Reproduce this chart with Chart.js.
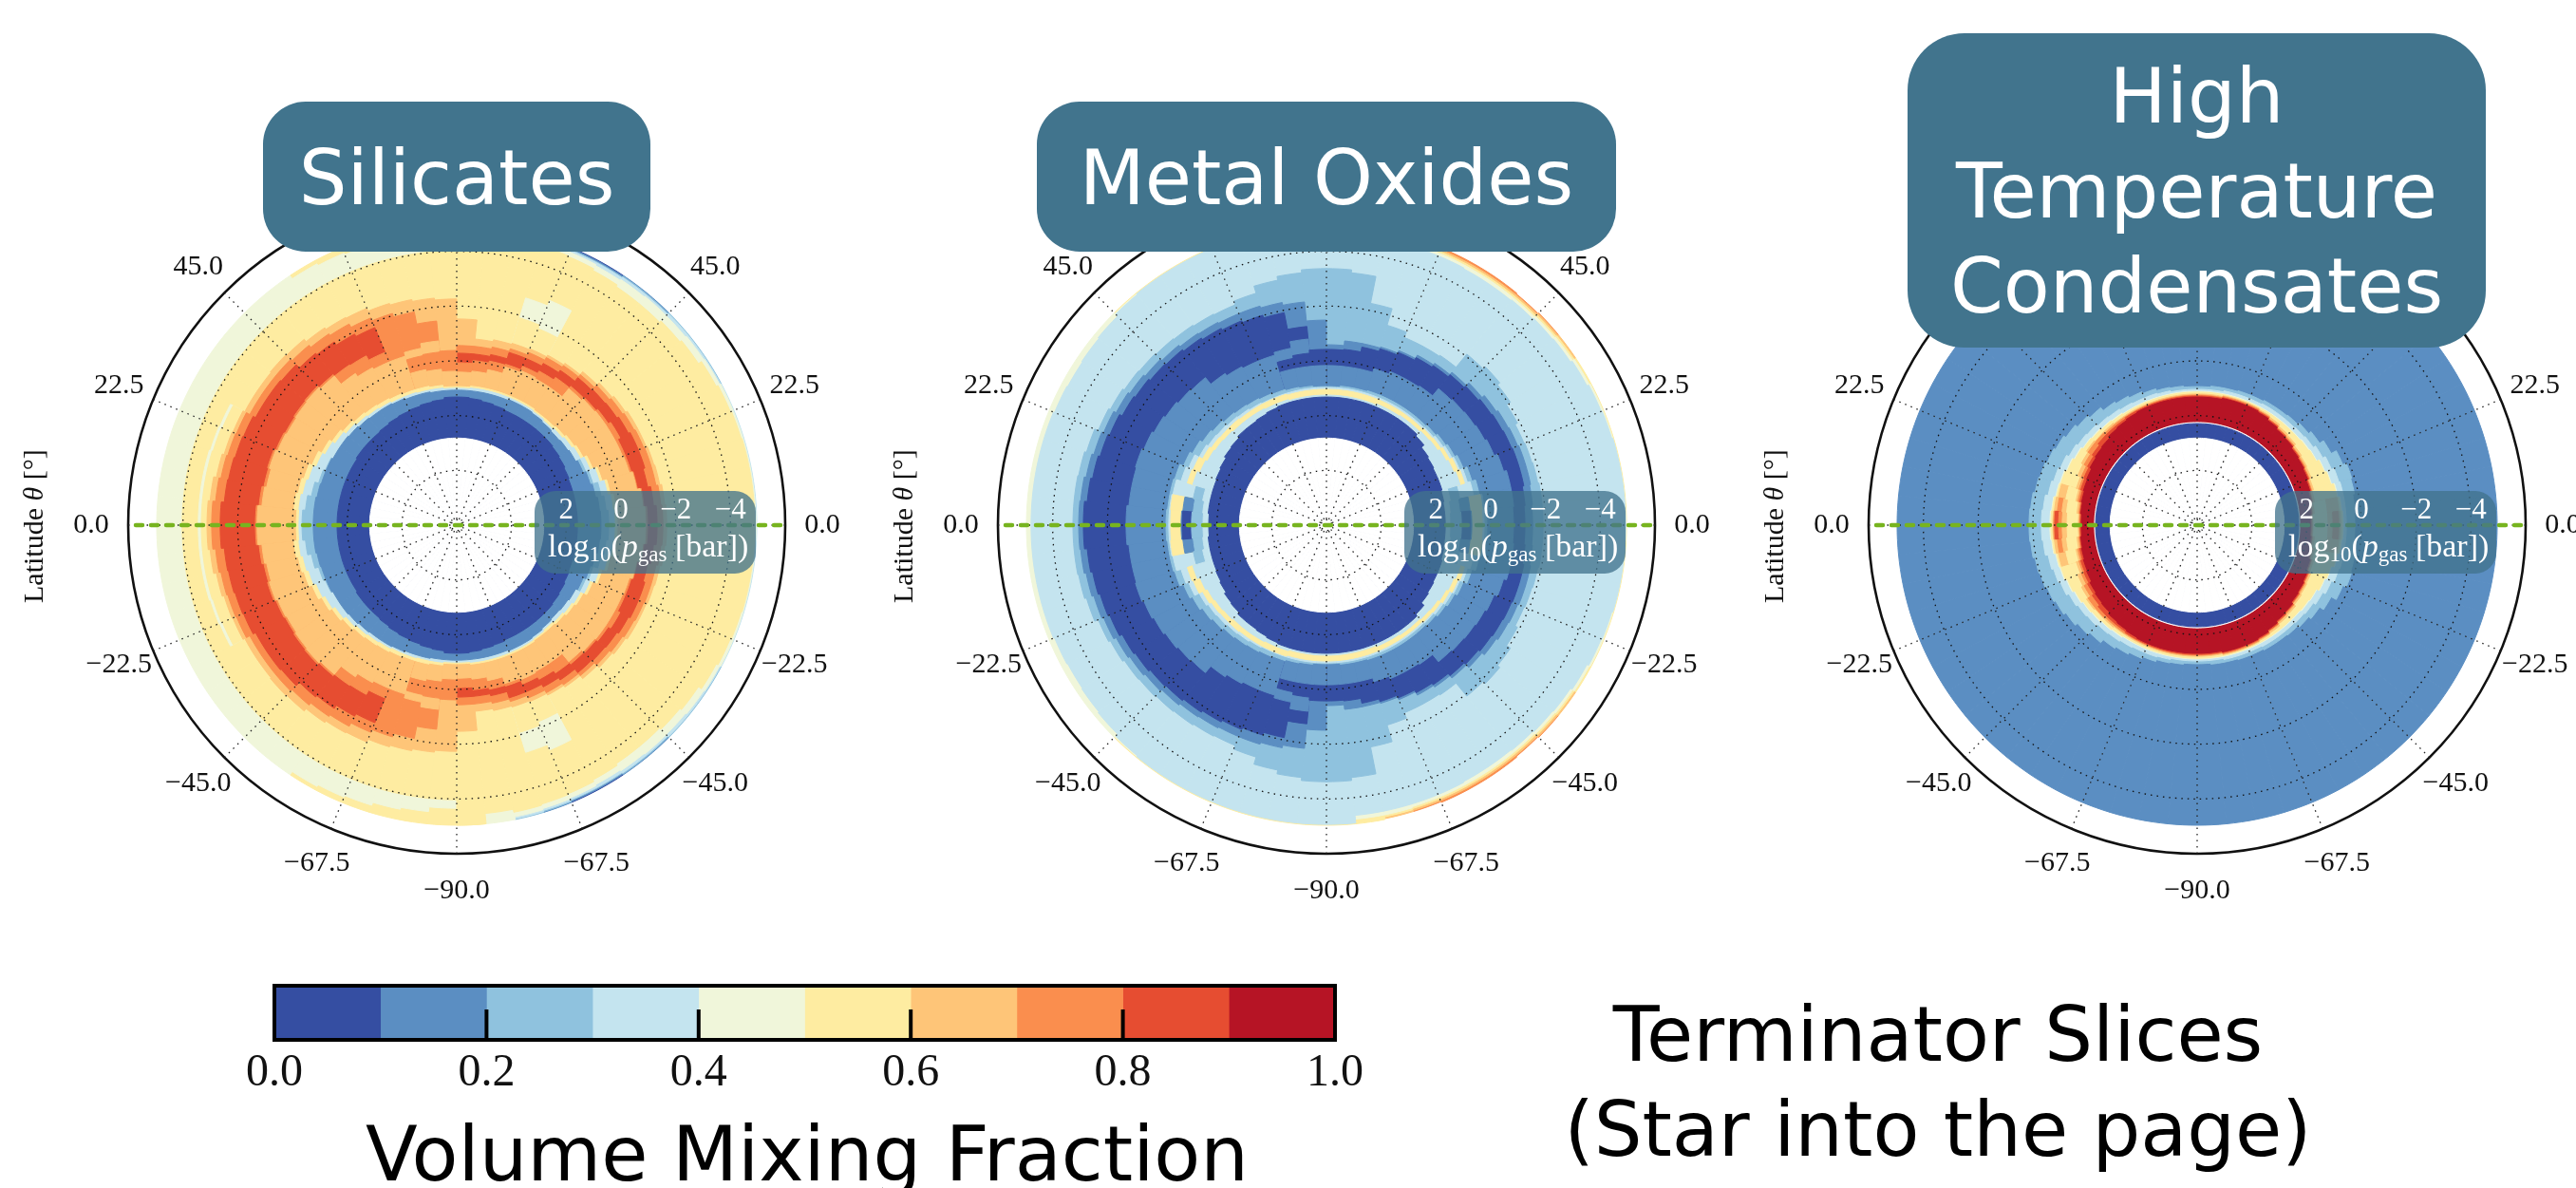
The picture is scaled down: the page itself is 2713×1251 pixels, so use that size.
<!DOCTYPE html>
<html>
<head>
<meta charset="utf-8">
<script src="https://cdn.jsdelivr.net/npm/chart.js@4"></script>
<style>
    html, body { margin: 0; background: #fff; }
    #page { position: relative; width: 2713px; height: 1251px; overflow: hidden; font-family: "DejaVu Sans"; }
    canvas { position: absolute; }
    .badge { position: absolute; background: #41748d; color: #fff; font-size: 80px; line-height: 100px;
             text-align: center; display: flex; align-items: center; justify-content: center; padding-top: 3px; box-sizing: border-box; }
    .note { position: absolute; color: #000; font-size: 80px; line-height: 100px; text-align: center; white-space: nowrap; }
</style>
</head>
<body>
<div id="page">
    <canvas id="panel1" width="916" height="900" style="left:23px;top:103px"></canvas>
    <canvas id="panel2" width="916" height="900" style="left:939px;top:103px"></canvas>
    <canvas id="panel3" width="916" height="900" style="left:1856px;top:103px"></canvas>
    <canvas id="colorbar" width="1198" height="150" style="left:249px;top:1028px"></canvas>
    <div class="badge" style="left:277px;top:107px;width:408px;height:158px;border-radius:45px">Silicates</div>
    <div class="badge" style="left:1092px;top:107px;width:610px;height:158px;border-radius:45px">Metal Oxides</div>
    <div class="badge" style="left:2009px;top:35px;width:609px;height:331px;border-radius:60px">High<br>Temperature<br>Condensates</div>
    <div class="note" style="left:1641px;top:1040px;width:800px">Terminator Slices<br>(Star into the page)</div>
    <div class="note" style="left:350px;top:1166px;width:1000px">Volume Mixing Fraction</div>
</div>
<script>
// Colour bands of the mixing fraction, 0.0 to 1.0 in steps of 0.1
const bandColors = ["#354ea2", "#5b8ec2", "#8fc2de", "#c4e4ef", "#f0f6da", "#feeca1", "#fec578", "#fa8e4e", "#e64d31", "#b61425"];
const bandEdges = [0, 0.1, 0.2, 0.3, 0.4, 0.5, 0.6, 0.7, 0.8, 0.9, 1];
const colorbarTicks = ["0.0", "0.2", "0.4", "0.6", "0.8", "1.0"];
const WHITE = -1;

const sectorLabels = ["s0","s1","s2","s3","s4","s5","s6","s7","s8","s9","s10","s11","s12","s13","s14","s15","s16","s17","s18","s19","s20","s21","s22","s23","s24","s25","s26","s27","s28","s29","s30","s31",
    "s32","s33","s34","s35","s36","s37","s38","s39","s40","s41","s42","s43","s44","s45","s46","s47","s48","s49","s50","s51","s52","s53","s54","s55","s56","s57","s58","s59","s60","s61","s62","s63"];
const latitudeTicks = ["0.0","22.5","45.0","67.5","90.0","67.5","45.0","22.5","0.0","\u221222.5","\u221245.0","\u221267.5","\u221290.0","\u221267.5","\u221245.0","\u221222.5"];
const radialGrid = [5.8, 4, 2, 0, -2, -4, -6];
const pressureTicks = [2, 0, -2, -4];

// Each array: log10(p) of a band's low-pressure edge, sector by sector,
// from the west limb round the south to the east limb (north is the mirror image).
// 6 means the band is absent in that sector.
const holeEdge = [2.82,2.82,2.82,2.82,2.82,2.82,2.82,2.82,2.82,2.82,2.82,2.82,2.82,2.82,2.82,2.82, 2.82,2.82,2.82,2.82,2.82,2.82,2.82,2.82,2.82,2.82,2.82,2.82,2.82,2.82,2.82,2.82];

// Silicates
const silRimDark = [6,6,6,6,6,6,6,6,6,6,6,6,6,6,6,6, 6,6,6,6,-4.96,-4.96,6,6,6,6,6,6,6,6,6,6];
const silRimMid = [6,6,6,6,6,6,6,6,6,6,6,6,6,6,6,6, 6,6,6,-4.96,-4.93,-4.93,-4.96,-4.96,6,6,6,6,6,6,6,6];
const silRimSky = [6,6,6,6,6,6,6,6,6,6,6,6,6,6,6,6, 6,6,-4.96,-4.93,-4.89,-4.89,-4.93,-4.93,-4.96,-4.96,-4.96,6,6,6,6,6];
const silRimPale = [6,6,6,6,6,6,6,6,6,6,6,6,6,6,6,6, 6,6,-4.93,-4.89,-4.86,-4.86,-4.89,-4.89,-4.93,-4.93,-4.93,-4.96,-4.96,-4.96,-4.96,-4.96];
const silRimYellow = [6,6,6,6,6,6,6,6,6,6,-4.96,-4.96,-4.96,-4.96,-4.96,-4.96, -4.96,6,6,6,6,6,6,6,6,6,6,6,6,6,6,6];
const silGreen = [-4.96,-4.96,-4.96,-4.96,-4.96,-4.96,-4.96,-4.96,-4.96,-4.96,-4.82,-4.75,-4.69,-4.58,-4.51,-4.34, 6,-4.96,-4.86,-4.82,-4.79,-4.75,-4.79,-4.82,-4.82,-4.86,-4.89,-4.93,-4.93,-4.93,-4.93,-4.93];
const silYellow = [-4.03,-4.03,-4.03,-4.03,-4.03,-4.03,-4.03,-4.03,-4.03,-4.03,-4.03,-4.03,-4.03,-4.03,-4.03,-4.03, -4.96,-4.58,-4.69,-4.65,-4.62,-4.55,-4.48,-4.48,-4.55,-4.62,-4.75,-4.82,-4.86,-4.89,-4.89,-4.89];
const silPatchGreen = [-3.44,-3.44,-3.44,-3.40,-3.37,6,6,6,6,6,6,6,6,6,6,6, 6,6,6,-2.67,-2.88,6,6,6,6,6,6,6,6,6,6,6];
const silPatchYellow = [-3.33,-3.33,-3.33,-3.30,-3.26,6,6,6,6,6,6,6,6,6,6,6, 6,6,6,-1.91,-1.77,6,6,6,6,6,6,6,6,6,6,6];
const silLightOrange = [-3.12,-3.05,-2.95,-2.88,-2.85,-2.78,-2.78,-2.81,-2.78,-2.67,-2.60,-2.57,-2.46,-2.40,-2.33,-2.26, -1.53,-0.83,-0.90,-0.94,-0.97,-1.04,-1.11,-1.25,-1.35,-1.42,-1.49,-1.49,-1.53,-1.56,-1.63,-1.67];
const silOrange = [-2.95,-2.85,-2.78,-2.74,-2.71,-2.57,-2.57,-2.57,-2.50,-2.40,-2.33,-2.19,-2.08,-1.94,-1.49,6, -0.56,-0.56,-0.63,-0.73,-0.83,-0.94,-1.01,-1.11,-1.22,-1.29,-1.35,-1.39,-1.42,-1.42,-1.49,-1.53];
const silRed = [-2.64,-2.53,-2.50,-2.46,-2.43,-2.33,-2.33,-2.29,-2.12,-2.05,-1.91,-1.81,6,6,6,6, -0.28,-0.28,-0.35,-0.59,-0.59,-0.70,-0.80,-0.97,-1.01,-1.04,-1.11,-1.18,-1.18,-1.11,-1.22,-1.32];
const silOrangeLow = [-1.35,-1.25,-1.18,-1.22,-1.15,-1.11,-1.15,-1.18,-1.11,-1.04,-1.01,-0.83,6,6,6,6, 0.07,-0.04,-0.11,-0.14,-0.28,-0.38,-0.49,-0.56,-0.59,-0.66,-0.76,-0.66,-0.66,-0.73,-0.87,-0.97];
const silLightOrangeLow = [-1.29,-1.15,-1.08,-1.15,-1.08,-1.04,-1.08,-1.11,-1.04,-0.66,-0.52,-0.45,-0.45,-0.59,-0.76,6, 0.41,0.35,0.21,-0.04,-0.11,-0.07,-0.07,-0.45,-0.52,-0.56,-0.56,-0.56,-0.59,-0.70,-0.83,-0.90];
const silOrangePatch = [6,6,6,6,6,6,6,6,6,6,6,6,6,-0.31,-0.35,-0.38, 6,6,6,6,6,6,6,6,6,6,6,6,6,6,6,6];
const silLightOrangeDeep = [6,6,6,6,6,6,6,6,6,6,6,6,6,0.21,0.28,0.38, 6,6,6,6,6,6,6,6,6,6,6,6,6,6,6,6];
const silThinYellow = [0.14,0.03,0.10,0.17,0.28,0.41,0.52,0.62,0.69,0.73,0.76,0.80,0.83,0.83,0.87,0.94, 0.94,0.90,0.90,0.90,0.90,0.90,0.94,0.94,0.90,0.83,0.76,0.62,0.45,0.28,0.17,0.14];
const silPale = [0.24,0.21,0.28,0.35,0.45,0.55,0.66,0.76,0.83,0.87,0.90,0.94,0.94,0.97,0.97,1.00, 1.00,0.97,0.97,0.97,0.97,0.97,1.00,1.04,1.00,0.94,0.87,0.73,0.55,0.38,0.28,0.24];
const silSky = [0.35,0.45,0.59,0.73,0.80,6,6,6,6,6,6,6,6,6,6,6, 6,6,6,6,6,6,6,6,6,6,6,0.90,0.80,0.62,0.52,0.45];
const silMid = [0.76,0.76,0.80,0.83,0.83,0.87,0.87,0.90,0.94,0.97,0.97,1.00,1.04,1.04,1.07,1.07, 1.07,1.07,1.07,1.07,1.04,1.04,1.07,1.11,1.14,1.11,1.07,1.00,0.90,0.83,0.76,0.73];
const silDark = [1.63,1.63,1.63,1.63,1.63,1.63,1.59,1.59,1.59,1.56,1.52,1.49,1.46,1.42,1.39,1.32, 1.32,1.35,1.39,1.42,1.46,1.46,1.46,1.46,1.46,1.49,1.52,1.56,1.59,1.59,1.59,1.59];

// Metal oxides
const moRimOrange = [6,6,6,6,6,6,6,6,6,6,6,6,6,6,6,6, 6,6,6,-4.93,-4.96,-4.96,-4.96,-4.93,-4.96,6,6,6,6,6,6,6];
const moRimLightOrange = [6,6,6,6,6,6,6,6,6,6,6,6,6,6,6,6, 6,6,-4.93,-4.89,-4.89,-4.89,-4.89,-4.89,-4.93,-4.96,6,6,6,6,6,6];
const moRimYellow = [6,6,6,6,6,6,6,6,-4.96,-4.96,-4.96,-4.96,-4.96,-4.96,-4.96,-4.96, -4.96,-4.96,-4.86,-4.82,-4.82,-4.82,-4.82,-4.82,-4.86,-4.89,-4.96,-4.96,-4.96,-4.96,-4.96,-4.96];
const moGreen = [-4.96,-4.96,-4.96,-4.96,-4.96,-4.96,-4.96,-4.96,-4.93,6,6,6,6,6,6,6, 6,-4.79,-4.79,-4.75,-4.75,-4.75,-4.75,-4.75,-4.79,-4.82,-4.89,-4.93,-4.93,-4.93,-4.93,-4.93];
const moPale = [-4.79,-4.79,-4.79,-4.79,-4.75,-4.72,-4.75,-4.79,-4.89,-4.93,-4.93,-4.93,-4.93,-4.93,-4.93,-4.93, -4.93,-4.65,-4.65,-4.65,-4.65,-4.62,-4.62,-4.65,-4.69,-4.72,-4.79,-4.86,-4.89,-4.93,-4.93,-4.93];
const moSky = [-3.26,-3.26,-3.23,-3.16,-3.02,-2.95,-2.88,-2.85,-2.81,-2.78,-2.74,-2.71,-2.85,-3.12,-3.26,-3.37, -3.37,-3.26,-2.26,-1.63,-1.42,-1.42,-1.46,-2.08,-2.19,-2.08,-1.91,-1.81,-1.84,-1.87,-1.91,-1.91];
const moMid = [-3.05,-3.02,-2.95,-2.88,-2.81,-2.71,-2.64,-2.57,-2.50,-2.43,-2.40,-2.36,-2.36,-2.29,-2.19,-1.49, -0.59,-0.76,-0.76,-0.80,-0.90,-1.04,-1.11,-1.22,-1.35,-1.46,-1.53,-1.56,-1.60,-1.60,-1.56,-1.53];
const moDarkBand = [-2.88,-2.78,-2.71,-2.64,-2.57,-2.46,-2.40,-2.33,-2.29,-2.22,-2.15,-2.08,-2.01,-1.91,-1.29,6, -0.42,-0.45,-0.63,-0.73,-0.83,-0.94,-1.01,-1.11,-1.18,-1.25,-1.29,-1.32,-1.35,-1.35,-1.29,-1.25];
const moMidLow = [-1.32,-1.25,-1.25,-1.29,-1.22,-1.15,-1.08,-1.01,-0.97,-0.66,-0.56,-0.49,-0.49,-0.59,-0.83,6, 0.17,0.17,0.17,0.03,-0.07,-0.07,-0.11,-0.45,-0.49,-0.52,-0.56,-0.63,-0.76,-0.87,-0.87,-0.83];
const moDarkPatch = [6,6,6,6,6,6,6,6,6,6,6,6,6,-0.21,-0.31,-0.42, 6,6,6,6,6,6,6,6,6,6,6,6,6,6,6,6];
const moMidDeep = [6,6,6,6,6,6,6,6,6,6,6,6,6,0.17,0.17,0.17, 6,6,6,6,6,6,6,6,6,6,6,6,6,6,6,6];
const moArcSky = [0.14,0.17,0.17,0.21,0.35,0.45,0.55,0.62,0.69,0.73,0.76,0.80,0.83,0.87,0.90,0.94, 0.94,0.90,0.90,0.87,0.87,0.87,0.87,0.87,0.83,0.76,0.69,0.59,0.45,0.31,0.21,0.14];
const moArcPale = [0.24,0.24,0.28,0.45,0.55,0.73,0.80,0.83,0.87,0.90,0.94,0.97,0.97,0.97,0.97,0.97, 0.97,0.97,0.97,0.97,0.97,0.97,0.97,0.97,0.94,0.87,0.80,0.73,0.62,0.52,0.28,0.24];
const moArcYellow = [0.31,0.28,6,0.69,0.73,0.87,0.94,0.97,0.97,1.00,1.00,1.00,1.00,1.04,1.04,1.04, 1.04,1.04,1.04,1.04,1.04,1.04,1.04,1.04,1.00,0.97,0.90,0.80,0.73,6,0.28,0.31];
const moIslandMid = [0.69,0.73,6,6,6,6,6,6,6,6,6,6,6,6,6,6, 6,6,6,6,6,6,6,6,6,6,6,6,6,6,0.73,0.69];
const moIslandDark = [0.73,6,6,6,6,6,6,6,6,6,6,6,6,6,6,6, 6,6,6,6,6,6,6,6,6,6,6,6,6,6,6,0.73];
const moInnerSky = [1.07,1.11,1.04,6,6,6,6,6,6,6,6,6,6,6,6,6, 6,6,6,6,6,6,6,6,6,6,6,6,6,1.04,1.11,1.07];
const moInnerPale = [1.49,1.46,1.39,0.90,1.00,1.07,1.11,1.14,1.18,1.18,1.18,1.21,1.21,1.25,1.25,1.25, 1.25,1.25,1.25,1.25,1.21,1.21,1.18,1.18,1.14,1.11,1.04,0.97,0.90,1.39,1.46,1.49];
const moDark = [1.70,1.66,1.66,1.66,1.63,1.59,1.52,1.49,1.42,1.42,1.39,1.35,1.32,1.32,1.32,1.32, 1.32,1.32,1.32,1.32,1.32,1.32,1.32,1.32,1.39,1.52,1.56,1.59,1.59,1.63,1.66,1.66];

// High temperature condensates
const htOuter = [-4.96,-4.96,-4.96,-4.96,-4.96,-4.96,-4.96,-4.96,-4.96,-4.96,-4.96,-4.96,-4.96,-4.96,-4.96,-4.96, -4.96,-4.96,-4.96,-4.96,-4.96,-4.96,-4.96,-4.96,-4.96,-4.96,-4.96,-4.96,-4.96,-4.96,-4.96,-4.96];
const htSky = [-0.14,-0.11,-0.04,0,0.07,0.14,0.24,0.35,0.45,0.59,0.66,0.73,0.80,0.87,0.90,0.94, 0.94,0.90,0.90,0.87,0.87,0.83,0.83,0.80,0.73,0.62,0.45,0.24,0.10,0.14,0.21,0.24];
const htPale = [0.31,0.35,0.45,0.52,0.59,0.69,0.76,0.80,0.87,0.90,0.94,0.97,0.97,1.00,1.04,1.04, 1.04,1.04,1.00,1.00,1.00,0.97,0.97,0.97,0.94,0.90,0.80,0.69,0.59,0.55,0.55,0.55];
const htGreen = [0.62,0.66,0.73,0.76,0.83,0.90,0.97,1.00,1.04,1.07,1.11,1.11,1.11,1.11,1.11,1.11, 1.11,1.11,1.11,1.11,1.11,1.11,1.11,1.11,1.11,1.07,1.04,0.94,0.87,0.76,0.69,0.66];
const htYellow = [0.66,0.69,0.76,0.80,0.87,0.94,1.00,1.04,1.07,1.11,1.14,1.14,1.14,1.14,1.14,1.14, 1.14,1.14,1.14,1.14,1.14,1.14,1.14,1.14,1.14,1.11,1.07,0.97,0.90,0.80,0.73,0.69];
const htSpotLight = [0.73,0.76,0.83,6,6,6,6,6,6,6,6,6,6,6,6,6, 6,6,6,6,6,6,6,6,6,6,6,6,6,6,0.80,0.76];
const htSpotOrange = [0.76,0.87,6,6,6,6,6,6,6,6,6,6,6,6,6,6, 6,6,6,6,6,6,6,6,6,6,6,6,6,6,6,0.83];
const htSpotRed = [0.80,6,6,6,6,6,6,6,6,6,6,6,6,6,6,6, 6,6,6,6,6,6,6,6,6,6,6,6,6,6,6,6];
const htSpotOrangeLow = [0.94,6,6,6,6,6,6,6,6,6,6,6,6,6,6,6, 6,6,6,6,6,6,6,6,6,6,6,6,6,6,6,6];
const htSpotLightLow = [1.07,1.04,6,6,6,6,6,6,6,6,6,6,6,6,6,6, 6,6,6,6,6,6,6,6,6,6,6,6,6,6,1.04,1.07];
const htYellowLow = [1.25,1.21,1.11,6,6,6,6,6,6,6,6,6,6,6,6,6, 6,6,6,6,6,6,6,6,6,6,6,6,6,6,1.25,1.25];
const htLightOrange = [1.66,1.59,1.49,1.39,1.28,1.21,1.14,1.18,1.18,1.21,1.21,1.21,1.21,1.21,1.21,1.21, 1.21,1.21,1.18,1.18,1.18,1.21,1.25,1.32,1.35,1.42,1.46,1.49,1.56,1.63,1.70,1.77];
const htOrange = [1.70,1.66,1.56,1.49,1.42,1.32,1.21,1.21,1.25,1.25,1.25,1.25,1.25,1.25,1.25,1.25, 1.25,1.25,1.21,1.21,1.21,1.25,1.32,1.39,1.42,1.49,1.52,1.56,1.63,1.70,1.77,1.80];
const htRedLight = [1.73,1.70,1.63,1.56,1.52,1.46,1.39,1.32,1.32,1.32,1.28,1.28,1.28,1.28,1.28,1.28, 1.28,1.28,1.25,1.25,1.25,1.28,1.35,1.42,1.46,1.52,1.56,1.59,1.66,1.73,1.80,1.84];
const htRed = [1.77,1.73,1.70,1.66,1.63,1.56,1.52,1.49,1.42,1.39,1.35,1.32,1.32,1.32,1.32,1.32, 1.32,1.32,1.28,1.28,1.28,1.32,1.39,1.46,1.49,1.56,1.59,1.63,1.70,1.77,1.84,1.87];
const htGap = [2.25,2.25,2.25,2.25,2.25,2.25,2.25,2.25,2.25,2.25,2.25,2.25,2.25,2.25,2.25,2.25, 2.25,2.25,2.25,2.25,2.25,2.25,2.25,2.25,2.25,2.25,2.25,2.25,2.25,2.25,2.25,2.25];
const htDark = [2.29,2.29,2.29,2.29,2.29,2.29,2.29,2.29,2.29,2.29,2.29,2.29,2.29,2.29,2.29,2.29, 2.29,2.29,2.29,2.29,2.29,2.29,2.29,2.29,2.29,2.29,2.29,2.29,2.29,2.29,2.29,2.29];

// Layers from the outermost band inwards: [colour band, edges]
const silicatesLayers = [
    [0, silRimDark], [1, silRimMid], [2, silRimSky], [3, silRimPale], [5, silRimYellow], [4, silGreen], [5, silYellow],
    [4, silPatchGreen], [5, silPatchYellow], [6, silLightOrange], [7, silOrange], [8, silRed], [7, silOrangeLow],
    [6, silLightOrangeLow], [7, silOrangePatch], [6, silLightOrangeDeep], [5, silThinYellow], [3, silPale], [2, silSky],
    [1, silMid], [0, silDark], [WHITE, holeEdge]
];
const metalOxideLayers = [
    [7, moRimOrange], [6, moRimLightOrange], [5, moRimYellow], [4, moGreen], [3, moPale], [2, moSky], [1, moMid], [0, moDarkBand],
    [1, moMidLow], [0, moDarkPatch], [1, moMidDeep], [2, moArcSky], [3, moArcPale], [5, moArcYellow], [1, moIslandMid],
    [0, moIslandDark], [2, moInnerSky], [3, moInnerPale], [0, moDark], [WHITE, holeEdge]
];
const condensateLayers = [
    [1, htOuter], [2, htSky], [3, htPale], [4, htGreen], [5, htYellow], [6, htSpotLight], [7, htSpotOrange], [8, htSpotRed],
    [7, htSpotOrangeLow], [6, htSpotLightLow], [5, htYellowLow], [6, htLightOrange], [7, htOrange], [8, htRedLight], [9, htRed],
    [WHITE, htGap], [0, htDark], [WHITE, holeEdge]
];

const SERIF = '"Liberation Serif"';

function drawRuns(ctx, runs, x, y) {
    let cursor = x;
    runs.forEach(run => {
        ctx.font = run.font;
        ctx.fillText(run.text, cursor, y + (run.drop || 0));
        cursor += ctx.measureText(run.text).width;
    });
}

// Axis labels, equator line and the pressure read-out drawn over each panel
function panelOverlay(hiddenLatitudes) {
    return {
        id: "panelOverlay",
        afterDraw(chart) {
            const { ctx } = chart;
            const scale = chart.scales.r;
            const cx = scale.xCenter;
            const cy = scale.yCenter;
            const edge = scale.drawingArea;
            ctx.save();

            // latitude labels just outside the frame
            ctx.fillStyle = "#111";
            ctx.font = `30px ${SERIF}`;
            ctx.textAlign = "center";
            ctx.textBaseline = "middle";
            latitudeTicks.forEach((label, i) => {
                if (hiddenLatitudes.includes(i)) return;
                const pos = scale.getPointPosition(i * 4, edge + 39);
                ctx.fillText(label, pos.x, pos.y);
            });

            // axis title
            ctx.save();
            ctx.translate(cx - 444, cy);
            ctx.rotate(-Math.PI / 2);
            ctx.textAlign = "left";
            drawRuns(ctx, [
                { text: "Latitude ", font: `30px ${SERIF}` },
                { text: "\u03b8", font: `italic 30px ${SERIF}` },
                { text: " [\u00b0]", font: `30px ${SERIF}` }
            ], -82, 0);
            ctx.restore();

            // equator
            const west = scale.getPointPosition(0, edge);
            const east = scale.getPointPosition(32, edge);
            ctx.strokeStyle = "#77b41f";
            ctx.lineWidth = 4.5;
            ctx.lineCap = "round";
            ctx.setLineDash([7, 9]);
            ctx.beginPath();
            ctx.moveTo(west.x + 8, west.y);
            ctx.lineTo(east.x, east.y);
            ctx.stroke();
            ctx.setLineDash([]);

            // pressure axis box
            ctx.fillStyle = "rgba(65, 115, 140, 0.77)";
            ctx.beginPath();
            ctx.roundRect(cx + 82, cy - 36, 233, 87, 22);
            ctx.fill();

            ctx.fillStyle = "#fff";
            ctx.font = `31px ${SERIF}`;
            ctx.textAlign = "center";
            pressureTicks.forEach(tick => {
                const label = tick < 0 ? "\u2212" + (-tick) : String(tick);
                ctx.fillText(label, cx + scale.getDistanceFromCenterForValue(tick), cy - 15);
            });
            ctx.textAlign = "left";
            drawRuns(ctx, [
                { text: "log", font: `34px ${SERIF}` },
                { text: "10", font: `23px ${SERIF}`, drop: 8 },
                { text: "(", font: `34px ${SERIF}` },
                { text: "p", font: `italic 34px ${SERIF}` },
                { text: "gas", font: `23px ${SERIF}`, drop: 8 },
                { text: " [bar])", font: `34px ${SERIF}` }
            ], cx + 96, cy + 24);
            ctx.restore();
        }
    };
}

function drawPanel(id, layers, hiddenLatitudes) {
    const datasets = layers.slice().reverse().map(([band, edges]) => {
        const color = band === WHITE ? "#ffffff" : bandColors[band];
        return {
            data: edges.concat(edges.slice().reverse()),
            backgroundColor: color,
            borderColor: color,
            borderWidth: 1
        };
    });
    return new Chart(document.getElementById(id), {
        type: "polarArea",
        data: { labels: sectorLabels, datasets: datasets },
        plugins: [panelOverlay(hiddenLatitudes)],
        options: {
            responsive: false,
            animation: false,
            layout: { padding: { left: 112, right: 112, top: 104, bottom: 104 } },
            plugins: { legend: { display: false }, tooltip: { enabled: false } },
            scales: {
                r: {
                    type: "radialLinear",
                    min: -6,
                    max: 6,
                    reverse: true,
                    startAngle: 270,
                    afterBuildTicks: s => { s.ticks = radialGrid.map(v => ({ value: v })); },
                    ticks: { display: false },
                    pointLabels: { display: false },
                    angleLines: {
                        display: true,
                        color: c => (c.index % 4 === 0 ? "#222" : "transparent"),
                        lineWidth: c => (c.index % 4 === 0 ? 1.3 : 0),
                        borderDash: [1.5, 5]
                    },
                    grid: {
                        z: 1,
                        circular: true,
                        color: "#111",
                        lineWidth: c => (c.tick && c.tick.value === -6 ? 2.6 : 1.3)
                    },
                    border: { dash: c => (c.tick && c.tick.value === -6 ? [] : [1.5, 5]) }
                }
            }
        }
    });
}

drawPanel("panel1", silicatesLayers, [3, 4, 5]);
drawPanel("panel2", metalOxideLayers, [3, 4, 5]);
drawPanel("panel3", condensateLayers, [2, 3, 4, 5, 6]);

// Colour bar
const colorbarFrame = {
    id: "colorbarFrame",
    afterDraw(chart) {
        const { ctx, chartArea } = chart;
        const x = chart.scales.x;
        ctx.save();
        ctx.strokeStyle = "#000";
        ctx.lineWidth = 4;
        colorbarTicks.forEach(label => {
            const px = x.getPixelForValue(Number(label));
            ctx.beginPath();
            ctx.moveTo(px, chartArea.bottom);
            ctx.lineTo(px, chartArea.bottom - 32);
            ctx.stroke();
        });
        ctx.lineWidth = 4;
        ctx.strokeRect(chartArea.left, chartArea.top, chartArea.right - chartArea.left, chartArea.bottom - chartArea.top);
        ctx.restore();
    }
};

new Chart(document.getElementById("colorbar"), {
    type: "bar",
    data: {
        labels: ["Volume Mixing Fraction"],
        datasets: bandColors.map((color, i) => ({
            data: [[bandEdges[i], bandEdges[i + 1]]],
            backgroundColor: color,
            barPercentage: 1,
            categoryPercentage: 1,
            grouped: false
        }))
    },
    plugins: [colorbarFrame],
    options: {
        indexAxis: "y",
        responsive: false,
        animation: false,
        layout: { padding: { left: 40, right: 41, top: 10, bottom: 0 } },
        plugins: { legend: { display: false }, tooltip: { enabled: false } },
        scales: {
            x: {
                min: 0,
                max: 1,
                afterFit: s => { s.height = 83; },
                grid: { display: false },
                border: { display: false },
                ticks: {
                    stepSize: 0.2,
                    maxRotation: 0,
                    padding: -1,
                    color: "#111",
                    font: { family: "Liberation Serif", size: 48 },
                    callback: v => v.toFixed(1)
                }
            },
            y: { display: false }
        }
    }
});
</script>
</body>
</html>
